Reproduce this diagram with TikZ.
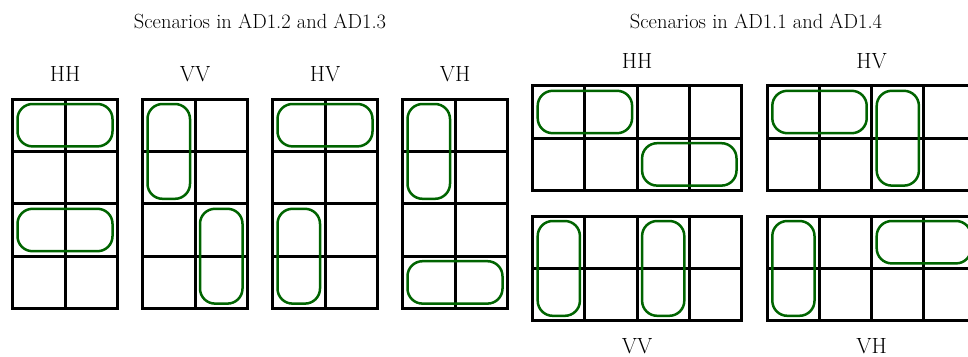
\documentclass[tikz,border=0pt]{standalone}
\definecolor{boxgreen}{RGB}{0,100,0}
\tikzset{
  gridline/.style={line width=3pt, draw=black, line cap=rect},
  pair/.style={draw=boxgreen, line width=2.5pt, rounded corners=15pt},
  lab/.style={font=\fontsize{22}{26}\selectfont, inner sep=0pt, anchor=base},
  ttl/.style={font=\fontsize{20.5}{24}\selectfont, inner sep=0pt, anchor=base}
}
\newcommand{\drawgridlines}[2]{%
  \foreach \i in {0,...,#1} \draw[gridline] ({\i*\cw},0) -- ({\i*\cw},{#2*\ch});
  \foreach \j in {0,...,#2} \draw[gridline] (0,{\j*\ch}) -- ({#1*\cw},{\j*\ch});
}
\newcommand{\cellbox}[4]{%
  \draw[pair] ({#1*\cw+5},{#2*\ch+5}) rectangle ({(#1+#3)*\cw-5},{(#2+#4)*\ch-5});
}
\begin{document}
\begin{tikzpicture}[x=1pt,y=-1pt]
\useasboundingbox (0,0) rectangle (968,356);
\clip (0,0) rectangle (968,356);
% titles
\node[ttl] (t1) at (260,28) {Scenarios in AD1.2 and AD1.3};
\node[ttl] (t2) at (756,28) {Scenarios in AD1.1 and AD1.4};
% left labels
\node[lab] (lhh) at (65,81.7) {HH};
\node[lab] (lvv) at (195,81.7) {VV};
\node[lab] (lhv) at (325,81.7) {HV};
\node[lab] (lvh) at (455,81.7) {VH};
% right labels
\node[lab] (rhh) at (637,68.3) {HH};
\node[lab] (rhv) at (871.7,68.3) {HV};
\node[lab] (rvv) at (637,353) {VV};
\node[lab] (rvh) at (871.7,353) {VH};
% left grids
\def\cw{52.5}\def\ch{52.4}
\begin{scope}[shift={(12.5,99)}]
  \drawgridlines{2}{4}
  \cellbox{0}{0}{2}{1}
  \cellbox{0}{2}{2}{1}
\end{scope}
\begin{scope}[shift={(142.5,99)}]
  \drawgridlines{2}{4}
  \cellbox{0}{0}{1}{2}
  \cellbox{1}{2}{1}{2}
\end{scope}
\begin{scope}[shift={(272.5,99)}]
  \drawgridlines{2}{4}
  \cellbox{0}{0}{2}{1}
  \cellbox{0}{2}{1}{2}
\end{scope}
\begin{scope}[shift={(402.5,99)}]
  \drawgridlines{2}{4}
  \cellbox{0}{0}{1}{2}
  \cellbox{0}{3}{2}{1}
\end{scope}
% right grids
\def\cw{52.2}\def\ch{52.4}
\begin{scope}[shift={(532.7,85.8)}]
  \drawgridlines{4}{2}
  \cellbox{0}{0}{2}{1}
  \cellbox{2}{1}{2}{1}
\end{scope}
\begin{scope}[shift={(767.3,85.8)}]
  \drawgridlines{4}{2}
  \cellbox{0}{0}{2}{1}
  \cellbox{2}{0}{1}{2}
\end{scope}
\begin{scope}[shift={(532.7,216)}]
  \drawgridlines{4}{2}
  \cellbox{0}{0}{1}{2}
  \cellbox{2}{0}{1}{2}
\end{scope}
\begin{scope}[shift={(767.3,216)}]
  \drawgridlines{4}{2}
  \cellbox{0}{0}{1}{2}
  \cellbox{2}{0}{2}{1}
\end{scope}
\end{tikzpicture}
\end{document}
